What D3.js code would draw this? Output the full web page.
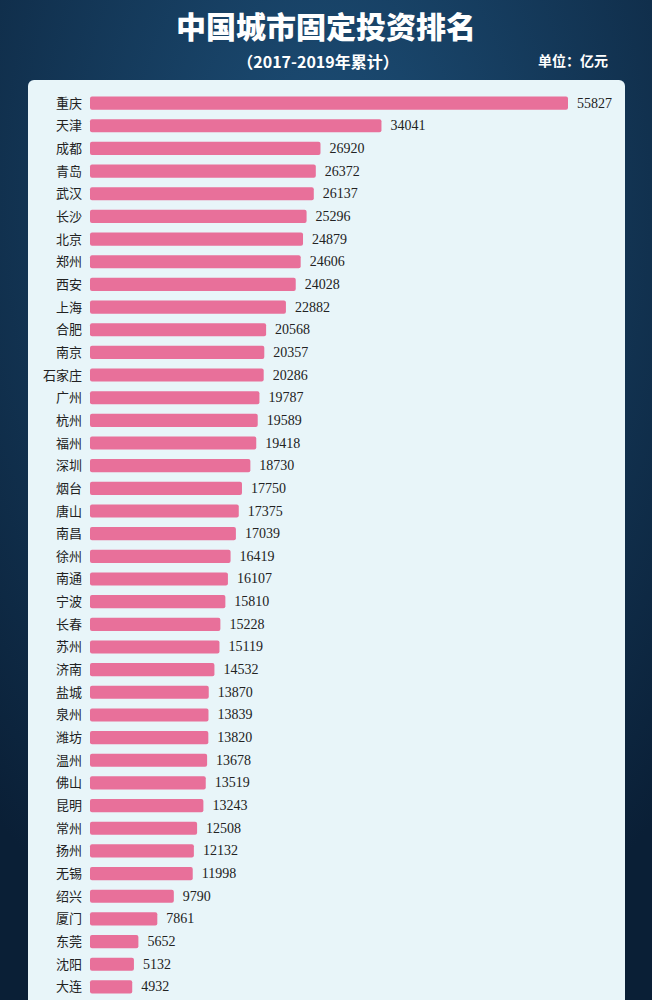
<!DOCTYPE html>
<html><head><meta charset="utf-8">
<script src="https://cdn.jsdelivr.net/npm/d3@7"></script>
<style>body{margin:0;background:#0c2540;}</style></head>
<body><svg id="c" width="652" height="1000"></svg>
<script>
const cities=["重庆","天津","成都","青岛","武汉","长沙","北京","郑州","西安","上海","合肥","南京","石家庄","广州","杭州","福州","深圳","烟台","唐山","南昌","徐州","南通","宁波","长春","苏州","济南","盐城","泉州","潍坊","温州","佛山","昆明","常州","扬州","无锡","绍兴","厦门","东莞","沈阳","大连"];
const values=[55827,34041,26920,26372,26137,25296,24879,24606,24028,22882,20568,20357,20286,19787,19589,19418,18730,17750,17375,17039,16419,16107,15810,15228,15119,14532,13870,13839,13820,13678,13519,13243,12508,12132,11998,9790,7861,5652,5132,4932];
const svg=d3.select("#c");
const defs=svg.append("defs");
const g=defs.append("radialGradient").attr("id","bg").attr("cx","50%").attr("cy","20%").attr("r","80%");
g.append("stop").attr("offset","0%").attr("stop-color","#1d4f78");
g.append("stop").attr("offset","100%").attr("stop-color","#0a1f36");
svg.append("rect").attr("width",652).attr("height",1000).attr("fill","url(#bg)");
svg.append("text").attr("x",326).attr("y",38).attr("text-anchor","middle").attr("fill","#fff")
 .attr("font-family","Noto Sans CJK SC").attr("font-weight","900").attr("font-size",30).text("中国城市固定投资排名");
svg.append("text").attr("x",318).attr("y",68).attr("text-anchor","middle").attr("fill","#fff")
 .attr("font-family","Noto Sans CJK SC").attr("font-weight","bold").attr("font-size",16).text("（2017-2019年累计）");
svg.append("text").attr("x",608).attr("y",66).attr("text-anchor","end").attr("fill","#fff")
 .attr("font-family","Noto Sans CJK SC").attr("font-weight","bold").attr("font-size",14).text("单位：亿元");
svg.append("rect").attr("x",28).attr("y",80).attr("width",597).attr("height",940).attr("rx",6).attr("fill","#e8f5f9");
const x=d3.scaleLinear().domain([0,55827]).range([90,568]);
const y=d3.scaleBand().domain(cities).range([92,998]).paddingInner(0.42).paddingOuter(0.2);
const rows=svg.append("g").selectAll("g").data(cities).join("g");
rows.append("rect").attr("x",x(0)).attr("y",d=>y(d)).attr("height",y.bandwidth())
 .attr("width",(d,i)=>x(values[i])-x(0)).attr("rx",2).attr("fill","#e8709a");
rows.append("text").attr("x",82).attr("y",d=>y(d)+y.bandwidth()/2+4.5).attr("text-anchor","end").attr("font-family","Noto Sans CJK SC")
 .attr("font-size",13).attr("fill","#222").text(d=>d);
rows.append("text").attr("x",(d,i)=>x(values[i])+9).attr("y",d=>y(d)+y.bandwidth()/2+4.5)
 .attr("font-family","Liberation Serif").attr("font-size",14).attr("fill","#222").text((d,i)=>values[i]);
</script></body></html>
